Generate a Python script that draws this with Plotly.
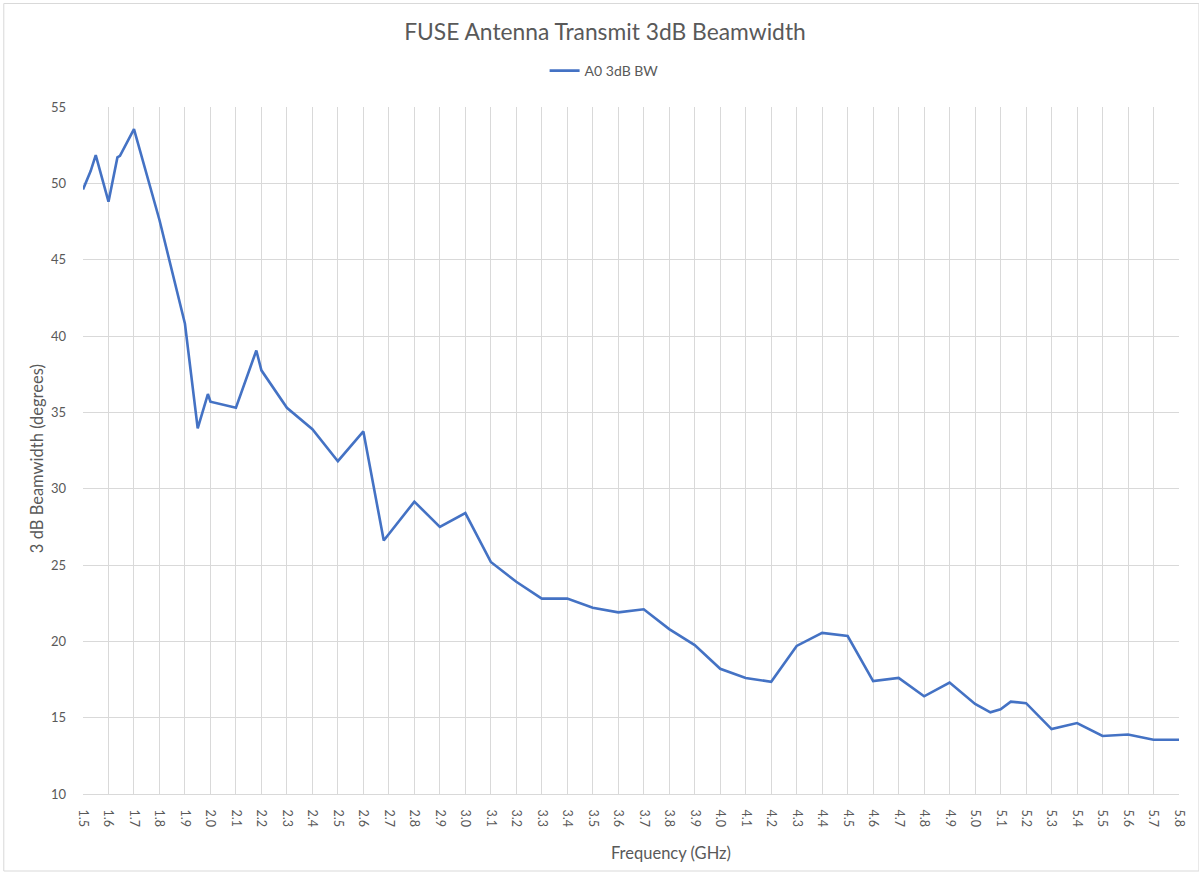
import plotly.graph_objects as go

freq_ghz = [1.5, 1.53, 1.55, 1.6, 1.635, 1.645, 1.7, 1.8, 1.9, 1.95, 1.99, 2.0,
            2.1, 2.18, 2.2, 2.3, 2.4, 2.5, 2.6, 2.68, 2.8, 2.9, 3.0, 3.1, 3.2,
            3.3, 3.4, 3.5, 3.6, 3.7, 3.8, 3.9, 4.0, 4.1, 4.2, 4.3, 4.4, 4.5,
            4.6, 4.7, 4.8, 4.9, 5.0, 5.06, 5.1, 5.14, 5.2, 5.3, 5.4, 5.5, 5.6,
            5.7, 5.8]
bw_deg = [49.6, 50.8, 51.85, 48.8, 51.7, 51.8, 53.55, 47.6, 40.8, 33.95, 36.2, 35.7,
          35.3, 39.05, 37.75, 35.3, 33.9, 31.8, 33.75, 26.6, 29.15, 27.5, 28.4, 25.2, 23.9,
          22.8, 22.8, 22.2, 21.9, 22.1, 20.8, 19.75, 18.2, 17.6, 17.35, 19.7, 20.55, 20.35,
          17.4, 17.6, 16.4, 17.3, 15.9, 15.35, 15.55, 16.05, 15.95, 14.25, 14.65, 13.8, 13.9,
          13.55, 13.55]

series_name = "A0 3dB BW"
title_text = "FUSE Antenna Transmit 3dB Beamwidth"
x_title = "Frequency (GHz)"
y_title = "3 dB Beamwidth (degrees)"

FONT = "Lato, 'Open Sans', sans-serif"
GRAY = "#595959"
GRID = "#d9d9d9"

W, H = 1199, 877
L, T, R, B = 83, 107, 16, 83
PW, PH = W - L - R, H - T - B


def px(xs):
    return (xs - L) / PW


def py(ys):
    return (H - B - ys) / PH


fig = go.Figure()
fig.add_trace(go.Scatter(
    x=freq_ghz, y=bw_deg, mode="lines", name=series_name,
    line=dict(color="#4472C4", width=2.6),
    showlegend=True,
))

fig.update_layout(
    width=W, height=H,
    margin=dict(l=L, r=R, t=T, b=B),
    paper_bgcolor="white", plot_bgcolor="white",
    font=dict(family=FONT, color=GRAY, size=12),
    title=dict(text=title_text, x=605 / W, xanchor="center", y=1 - 32 / H, yanchor="middle",
               font=dict(size=22.8, color=GRAY, family=FONT)),
    showlegend=True,
    legend=dict(orientation="h", x=px(606), xanchor="center", y=py(71), yanchor="middle",
                font=dict(size=14, color=GRAY, family=FONT), itemwidth=30,
                bgcolor="rgba(0,0,0,0)"),
    xaxis=dict(range=[1.5, 5.8], dtick=0.1, tick0=1.5, tickformat=".1f",
               tickangle=90, showgrid=True, gridcolor=GRID, gridwidth=1,
               showline=True, linecolor=GRID, linewidth=1, zeroline=False,
               ticks="", tickfont=dict(size=12.5, color=GRAY), ticklabelstandoff=12),
    yaxis=dict(range=[10, 55], dtick=5, tick0=10, showgrid=True, gridcolor=GRID,
               gridwidth=1, showline=False, zeroline=False, ticks="",
               tickfont=dict(size=13, color=GRAY), ticklabelstandoff=16),
    annotations=[
        dict(text=x_title, xref="paper", yref="paper", x=px(673),
             y=py(853), xanchor="center", yanchor="middle",
             showarrow=False, font=dict(size=16.5, color=GRAY, family=FONT)),
        dict(text=y_title, xref="paper", yref="paper", x=px(37),
             y=py(459), xanchor="center", yanchor="middle", textangle=-90,
             showarrow=False, font=dict(size=16.5, color=GRAY, family=FONT)),
    ],
    shapes=[
        dict(type="rect", xref="paper", yref="paper",
             x0=px(3.5), x1=px(1203), y0=py(871), y1=py(3.5),
             line=dict(color=GRID, width=1), fillcolor="rgba(0,0,0,0)", layer="below"),
    ],
)

fig.write_html("out.html", config={"displayModeBar": False},
               post_script="document.body.style.margin='0';")
